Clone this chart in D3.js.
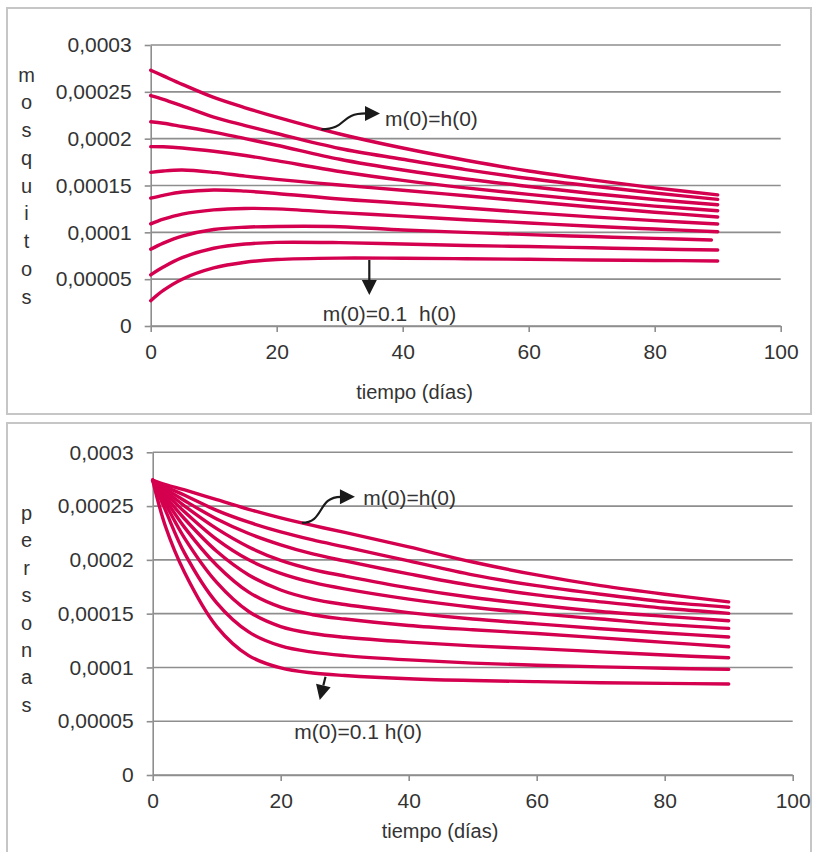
<!DOCTYPE html>
<html>
<head>
<meta charset="utf-8">
<title>mosquitos / personas</title>
<script src="https://cdn.jsdelivr.net/npm/d3@7"></script>
<style>
  body { margin: 0; background: #fff; }
  svg { display: block; }
  text { font-family: "Liberation Sans", Arial, sans-serif; fill: #333; }
</style>
</head>
<body>
<svg id="chart" width="814" height="852"></svg>
<script>
// series values below are in units of 1e-4
const UNIT = 1e-4;

const yTicks = [0, 0.00005, 0.0001, 0.00015, 0.0002, 0.00025, 0.0003];
const xTicks = [0, 20, 40, 60, 80, 100];

// top panel: mosquitos, one row per m(0) = 0.1 h(0) ... m(0) = h(0)
const mDays = [0, 2, 5, 10, 15, 20, 30, 40, 50, 60, 70, 80, 90];
const mLastDay = [90, 90, 89, 90, 90, 90, 90, 90, 90, 90];
const mosquitos = [
    [0.27, 0.38, 0.50, 0.62, 0.68, 0.71, 0.725, 0.723, 0.718, 0.712, 0.705, 0.70, 0.694],
    [0.546, 0.63, 0.73, 0.83, 0.875, 0.893, 0.89, 0.875, 0.86, 0.848, 0.835, 0.822, 0.811],
    [0.82, 0.885, 0.96, 1.03, 1.055, 1.063, 1.06, 1.025, 1.0, 0.975, 0.955, 0.935, 0.918],
    [1.09, 1.14, 1.195, 1.24, 1.255, 1.25, 1.21, 1.173, 1.135, 1.10, 1.065, 1.035, 1.007],
    [1.365, 1.395, 1.43, 1.452, 1.44, 1.415, 1.356, 1.31, 1.26, 1.21, 1.165, 1.125, 1.089],
    [1.64, 1.655, 1.665, 1.64, 1.60, 1.565, 1.505, 1.45, 1.39, 1.33, 1.27, 1.215, 1.164],
    [1.915, 1.913, 1.90, 1.865, 1.82, 1.765, 1.65, 1.555, 1.475, 1.405, 1.34, 1.28, 1.231],
    [2.18, 2.165, 2.13, 2.07, 2.0, 1.93, 1.78, 1.665, 1.57, 1.49, 1.415, 1.35, 1.295],
    [2.46, 2.42, 2.35, 2.23, 2.14, 2.055, 1.895, 1.78, 1.67, 1.575, 1.495, 1.42, 1.352],
    [2.73, 2.67, 2.58, 2.44, 2.33, 2.23, 2.05, 1.90, 1.77, 1.655, 1.56, 1.475, 1.40]
];

// bottom panel: personas, same ten initial ratios
const pDays = [0, 2, 5, 10, 15, 20, 25, 30, 40, 50, 60, 70, 80, 90];
const pLastDay = [90, 90, 90, 90, 90, 90, 90, 90, 90, 90];
const personas = [
    [2.74, 2.31, 1.88, 1.38, 1.11, 0.995, 0.948, 0.925, 0.895, 0.878, 0.868, 0.858, 0.852, 0.846],
    [2.74, 2.46, 2.06, 1.60, 1.33, 1.20, 1.142, 1.11, 1.07, 1.04, 1.02, 1.005, 0.993, 0.982],
    [2.74, 2.52, 2.20, 1.79, 1.52, 1.38, 1.315, 1.28, 1.235, 1.20, 1.175, 1.145, 1.115, 1.09],
    [2.74, 2.56, 2.30, 1.95, 1.70, 1.56, 1.49, 1.45, 1.39, 1.35, 1.315, 1.275, 1.233, 1.192],
    [2.74, 2.59, 2.38, 2.08, 1.86, 1.72, 1.635, 1.585, 1.51, 1.45, 1.405, 1.36, 1.32, 1.283],
    [2.74, 2.62, 2.445, 2.19, 2.0, 1.875, 1.79, 1.73, 1.635, 1.56, 1.50, 1.45, 1.40, 1.363],
    [2.74, 2.64, 2.50, 2.29, 2.12, 1.995, 1.91, 1.85, 1.74, 1.65, 1.58, 1.52, 1.475, 1.434],
    [2.74, 2.66, 2.55, 2.38, 2.245, 2.14, 2.055, 1.99, 1.87, 1.76, 1.675, 1.61, 1.55, 1.503],
    [2.74, 2.68, 2.60, 2.46, 2.35, 2.26, 2.185, 2.12, 1.99, 1.86, 1.76, 1.68, 1.61, 1.56],
    [2.74, 2.70, 2.65, 2.56, 2.47, 2.39, 2.32, 2.255, 2.12, 1.98, 1.86, 1.76, 1.68, 1.61]
];

const lineColor = '#d4004f';
const gridColor = '#8e8e8e';
const frameColor = '#c6c6c6';

const svg = d3.select('#chart');
const fmt = d3.formatLocale({decimal: ',', thousands: '.', grouping: [3], currency: ['', '']}).format('~g');

function drawPanel(cfg) {
    const g = svg.append('g');

    g.append('rect')
        .attr('x', cfg.frame[0]).attr('y', cfg.frame[1])
        .attr('width', cfg.frame[2]).attr('height', cfg.frame[3])
        .attr('fill', 'none')
        .attr('stroke', frameColor)
        .attr('stroke-width', 2);

    const x = d3.scaleLinear().domain([0, 100]).range([cfg.left, cfg.right]);
    const y = d3.scaleLinear().domain([0, 0.0003]).range([cfg.bottom, cfg.top]);

    // gridlines
    g.selectAll()
        .data(yTicks)
        .enter()
        .append('line')
            .attr('x1', x(0)).attr('x2', x(100))
            .attr('y1', d => y(d)).attr('y2', d => y(d))
            .attr('stroke', gridColor)
            .attr('stroke-width', 1.6);

    const yAxis = g.append('g')
        .attr('transform', `translate(${x(0)},0)`)
        .call(d3.axisLeft(y).tickValues(yTicks).tickFormat(fmt)
            .tickSizeInner(6).tickSizeOuter(0).tickPadding(13));

    const xAxis = g.append('g')
        .attr('transform', `translate(0,${y(0)})`)
        .call(d3.axisBottom(x).tickValues(xTicks).tickFormat(d3.format('d'))
            .tickSizeInner(6).tickSizeOuter(0).tickPadding(12));

    [yAxis, xAxis].forEach(a => {
        a.selectAll('path, line').attr('stroke', gridColor).attr('stroke-width', 1.6);
        a.selectAll('text')
            .style('font-size', '21px')
            .attr('fill', '#333')
            .attr('font-family', '"Liberation Sans", Arial, sans-serif');
    });

    // vertical axis title, one letter per row
    g.selectAll()
        .data(cfg.yTitle.split(''))
        .enter()
        .append('text')
            .attr('x', cfg.titleX)
            .attr('y', (d, i) => cfg.titleY + i * cfg.titleStep)
            .attr('text-anchor', 'middle')
            .style('font-size', '20px')
            .text(d => d);

    g.append('text')
        .attr('x', cfg.xTitle[0]).attr('y', cfg.xTitle[1])
        .attr('text-anchor', 'middle')
        .style('font-size', '20px')
        .text('tiempo (días)');

    // curves
    const line = d3.line()
        .x(d => x(d[0]))
        .y(d => y(d[1] * UNIT))
        .curve(d3.curveCatmullRom.alpha(0.5));

    cfg.series.forEach((vals, k) => {
        const pts = vals.map((v, i) => [i === vals.length - 1 ? cfg.lastDay[k] : cfg.days[i], v]);
        g.append('path')
            .attr('d', line(pts))
            .attr('fill', 'none')
            .attr('stroke', lineColor)
            .attr('stroke-width', 3.4)
            .attr('stroke-linecap', 'round')
            .attr('stroke-linejoin', 'round');
    });

    // annotations
    const px = p => [x(p[0]), y(p[1] * UNIT)];
    cfg.notes.forEach(n => {
        const s = px(n.from), t = px(n.tip);
        const ang = n.curl ? 0 : Math.atan2(t[1] - s[1], t[0] - s[0]);
        const len = 15, half = 7.5;
        const b = [t[0] - len * Math.cos(ang), t[1] - len * Math.sin(ang)];
        let d;
        if (n.curl) {
            const dx = b[0] - s[0];
            d = `M${s[0]},${s[1]} C${s[0] + dx * 0.6},${s[1]} ${b[0] - dx * 0.6},${b[1]} ${b[0] + 1},${b[1]}`;
        } else {
            d = `M${s[0]},${s[1]} L${b[0]},${b[1]}`;
        }
        g.append('path')
            .attr('d', d)
            .attr('fill', 'none')
            .attr('stroke', '#1a1a1a')
            .attr('stroke-width', 2.2);
        const nx = -Math.sin(ang), ny = Math.cos(ang);
        g.append('path')
            .attr('d', `M${t[0]},${t[1]} L${b[0] + nx * half},${b[1] + ny * half} L${b[0] - nx * half},${b[1] - ny * half} Z`)
            .attr('fill', '#1a1a1a');

        const tp = px(n.textAt);
        g.append('text')
            .attr('x', tp[0]).attr('y', tp[1])
            .attr('dy', '0.35em')
            .attr('text-anchor', n.anchor)
            .style('font-size', '21px')
            .style('white-space', 'pre')
            .text(n.text);
    });
}

drawPanel({
    frame: [7, 8, 804, 406],
    left: 150.7, right: 780.7, top: 45, bottom: 326,
    yTitle: 'mosquitos', titleX: 26.5, titleY: 81.5, titleStep: 27.75,
    xTitle: [414.5, 399],
    days: mDays, lastDay: mLastDay, series: mosquitos,
    notes: [
        {from: [27.1, 2.10], tip: [36.4, 2.27], curl: true,
         text: 'm(0)=h(0)', textAt: [37.2, 2.217], anchor: 'start'},
        {from: [34.7, 0.705], tip: [34.7, 0.331], curl: false,
         text: 'm(0)=0.1  h(0)', textAt: [37.9, 0.128], anchor: 'middle'}
    ]
});

drawPanel({
    frame: [7, 423, 804, 440],
    left: 152.7, right: 792.7, top: 452.3, bottom: 775,
    yTitle: 'personas', titleX: 26.5, titleY: 520, titleStep: 27.4,
    xTitle: [440, 838],
    days: pDays, lastDay: pLastDay, series: personas,
    notes: [
        {from: [23.3, 2.345], tip: [31.6, 2.586], curl: true,
         text: 'm(0)=h(0)', textAt: [32.9, 2.581], anchor: 'start'},
        {from: [27, 0.914], tip: [26.1, 0.697], curl: false,
         text: 'm(0)=0.1 h(0)', textAt: [32.1, 0.402], anchor: 'middle'}
    ]
});
</script>
</body>
</html>
